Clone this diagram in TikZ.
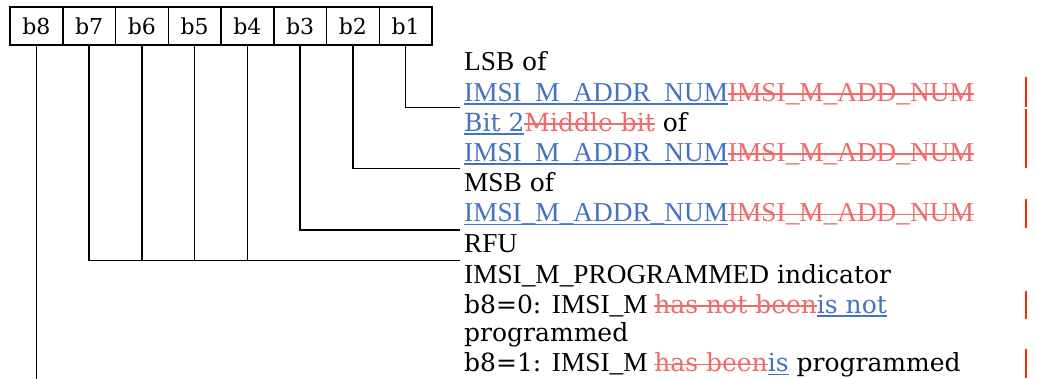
\documentclass[tikz,border=0pt]{standalone}
\usepackage{fontspec}
\setmainfont{Liberation Serif}
\newfontfamily\cenfont{DejaVu Serif}
\definecolor{insblue}{HTML}{4472C4}
\definecolor{delred}{HTML}{F06B6B}
\definecolor{barred}{HTML}{FF2A00}
\newsavebox\mkbox
\newcommand\cy[1]{{\cenfont\fontsize{25}{30}\selectfont #1}}
\newcommand\insx[1]{{\color{insblue}\sbox\mkbox{#1}\rlap{\rule[-3.5pt]{\wd\mkbox}{1.8pt}}\usebox\mkbox}}
\newcommand\delx[1]{{\color{delred}\sbox\mkbox{#1}\rlap{\rule[6.5pt]{\wd\mkbox}{1.8pt}}\usebox\mkbox}}
\tikzset{
  bitbox/.style={draw, line width=1.5pt, minimum width=52.75pt, minimum height=38pt,
    inner sep=0pt, font=\cenfont\fontsize{22}{22}\selectfont},
  wire/.style={line width=1.5pt},
  txt/.style={anchor=base west, inner sep=0pt, font=\fontsize{27.3}{30}\selectfont},
  chbar/.style={draw=barred, line width=2pt},
}
\begin{document}
\begin{tikzpicture}[x=1pt,y=-1pt]
\useasboundingbox (0,0) rectangle (1037,379);
% bit boxes
\node[bitbox] (b8) at (36.375,26) {b8};
\node[bitbox] (b7) at (89.125,26) {b7};
\node[bitbox] (b6) at (141.875,26) {b6};
\node[bitbox] (b5) at (194.625,26) {b5};
\node[bitbox] (b4) at (247.375,26) {b4};
\node[bitbox] (b3) at (300.125,26) {b3};
\node[bitbox] (b2) at (352.875,26) {b2};
\node[bitbox] (b1) at (405.625,26) {b1};
% connector ends
\coordinate (e1) at (460,107.3);
\coordinate (e2) at (460,168.3);
\coordinate (e3) at (460,230);
\coordinate (e4) at (460,260.7);
\coordinate (e8) at (36.375,379);
% connectors
\draw[wire] (b1.south) |- (e1);
\draw[wire] (b2.south) |- (e2);
\draw[wire] (b3.south) |- (e3);
\draw[wire] (b7.south) |- (e4);
\draw[wire] (b6.south) -- (b6.south |- e4);
\draw[wire] (b5.south) -- (b5.south |- e4);
\draw[wire] (b4.south) -- (b4.south |- e4);
\draw[wire] (b8.south) -- (e8);
% texts
\node[txt] (t1) at (464,71) {LSB\cy{ of}};
\node[txt] (t2) at (464,101.6) {\insx{IMSI\_M\_ADDR\_NUM}\delx{IMSI\_M\_ADD\_NUM}};
\node[txt] (t3) at (464,131.7) {\cy{\insx{Bit 2}\delx{Middle bit} of}};
\node[txt] (t4) at (464,161.7) {\insx{IMSI\_M\_ADDR\_NUM}\delx{IMSI\_M\_ADD\_NUM}};
\node[txt] (t5) at (464,191.7) {MSB\cy{ of}};
\node[txt] (t6) at (464,222) {\insx{IMSI\_M\_ADDR\_NUM}\delx{IMSI\_M\_ADD\_NUM}};
\node[txt] (t7) at (464,252.6) {RFU};
\node[txt] (t8) at (464,283.2) {IMSI\_M\_PROGRAMMED\cy{ indicator}};
\node[txt] (t9) at (464,313.3) {\cy{b8=0: }IMSI\_M \cy{\delx{has not been}\insx{is not}}};
\node[txt] (t10) at (464,342) {\cy{programmed}};
\node[txt] (t11) at (464,372) {\cy{b8=1: }IMSI\_M \cy{\delx{has been}\insx{is} programmed}};
% change bars
\draw[chbar] (1026,77.3) -- (1026,106.7);
\draw[chbar] (1026,109.3) -- (1026,167.7);
\draw[chbar] (1026,199.3) -- (1026,228.3);
\draw[chbar] (1026,291) -- (1026,319.3);
\draw[chbar] (1026,349) -- (1026,378.3);
\end{tikzpicture}
\end{document}
